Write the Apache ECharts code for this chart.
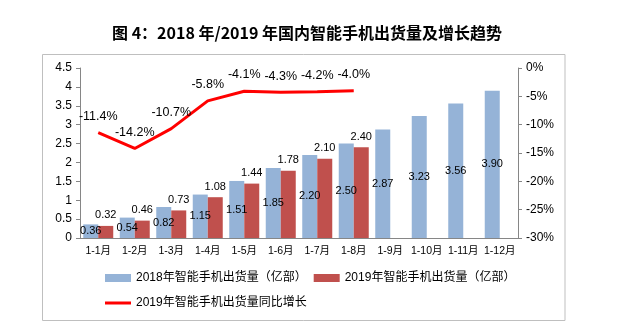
<!DOCTYPE html>
<html>
<head>
<meta charset="utf-8">
<script src="https://cdn.jsdelivr.net/npm/echarts@6/dist/echarts.min.js"></script>
<style>html,body{margin:0;padding:0;background:#fff;}#c{width:640px;height:335px;}</style>
</head>
<body>
<div id="c"></div>
<script>
const categories = ['1-1月','1-2月','1-3月','1-4月','1-5月','1-6月','1-7月','1-8月','1-9月','1-10月','1-11月','1-12月'];
const ship2018 = [0.36,0.54,0.82,1.15,1.51,1.85,2.20,2.50,2.87,3.23,3.56,3.90];
const ship2019 = [0.32,0.46,0.73,1.08,1.44,1.78,2.10,2.40,null,null,null,null];
const growth2019 = [-11.4,-14.2,-10.7,-5.8,-4.1,-4.3,-4.2,-4.0,null,null,null,null];
const leftTicks = {min:0,max:4.5,interval:0.5};
const rightTicks = {min:-30,max:0,interval:5};
const names = ['2018年智能手机出货量（亿部）','2019年智能手机出货量（亿部）','2019年智能手机出货量同比增长'];
const titleText = '图 4：2018 年/2019 年国内智能手机出货量及增长趋势';

const FF = 'Liberation Sans, "Noto Sans CJK SC", sans-serif';
const chart = echarts.init(document.getElementById('c'));
const axisLineStyle = {color:'#868686',width:1};
chart.setOption({
  animation:false,
  textStyle:{fontFamily:FF},
  title:{text:titleText,left:107,top:20,textStyle:{fontSize:16,fontWeight:'bold',color:'#000',fontFamily:'"Noto Sans CJK SC", sans-serif'}},
  graphic:[{type:'rect',shape:{x:42.5,y:54.5,width:522.5,height:266},style:{fill:'none',stroke:'#BFBFBF',lineWidth:1},z:-1}],
  legend:[
    {data:[names[0],names[1]],left:105,top:272,padding:0,itemWidth:26,itemHeight:8,itemGap:7,icon:'rect',
     textStyle:{fontSize:12,color:'#000',fontFamily:FF}},
    {data:[{name:names[2],icon:'rect'}],left:105,top:297,padding:0,itemWidth:26,itemHeight:3,
     textStyle:{fontSize:12,color:'#000',fontFamily:FF}}
  ],
  grid:{left:80,right:122,top:68,bottom:97,containLabel:false},
  xAxis:{type:'category',data:categories,
    axisLine:{lineStyle:axisLineStyle},axisTick:{lineStyle:axisLineStyle,length:4},
    axisLabel:{fontSize:10.5,color:'#000',margin:8,interval:0}},
  yAxis:[
    {type:'value',min:leftTicks.min,max:leftTicks.max,interval:leftTicks.interval,
     axisLine:{show:true,lineStyle:axisLineStyle},axisTick:{show:true,lineStyle:axisLineStyle,length:4},
     splitLine:{show:false},axisLabel:{fontSize:12,color:'#000',margin:8}},
    {type:'value',min:rightTicks.min,max:rightTicks.max,interval:rightTicks.interval,position:'right',
     axisLine:{show:true,lineStyle:axisLineStyle},axisTick:{show:true,lineStyle:axisLineStyle,length:4},
     splitLine:{show:false},axisLabel:{fontSize:12,color:'#000',margin:8,formatter:'{value}%'}}
  ],
  series:[
    {name:names[0],type:'bar',data:ship2018,barWidth:15,barGap:'0%',
     itemStyle:{color:'#95B3D7'},
     label:{show:true,position:'inside',fontSize:11,color:'#000',formatter:p=>p.value.toFixed(2)}},
    {name:names[1],type:'bar',data:ship2019,barWidth:15,barGap:'0%',
     itemStyle:{color:'#C0504D'},
     label:{show:true,position:'top',distance:5,fontSize:11,color:'#000',formatter:p=>p.value==null?'':p.value.toFixed(2)}},
    {name:names[2],type:'line',yAxisIndex:1,data:growth2019,symbol:'circle',symbolSize:0.1,showSymbol:true,
     lineStyle:{color:'#FF0000',width:3},itemStyle:{color:'#FF0000'},
     label:{show:true,position:'top',distance:10,fontSize:12.5,color:'#000',formatter:p=>p.value==null?'':p.value.toFixed(1)+'%'}}
  ]
});
</script>
</body>
</html>
